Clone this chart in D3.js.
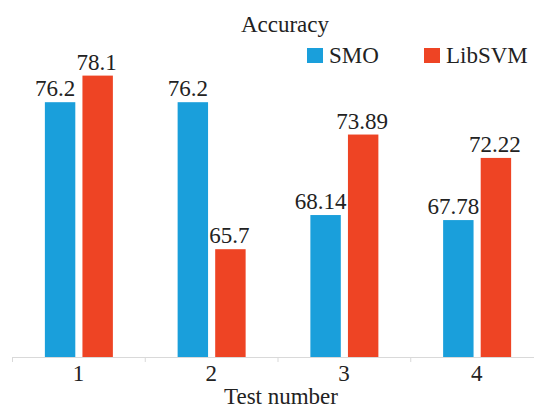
<!DOCTYPE html>
<html><head><meta charset="utf-8">
<script src="https://cdn.jsdelivr.net/npm/d3@7"></script>
<style>body{margin:0;background:#fff}svg{display:block}text{font-family:"Liberation Serif","Times New Roman",serif;fill:#222}</style>
</head><body><svg id="c" width="534" height="409"></svg>
<script>
const categories = ["1","2","3","4"];
const series = ["SMO","LibSVM"];
const smo = [76.2, 76.2, 68.14, 67.78];
const libsvm = [78.1, 65.7, 73.89, 72.22];
const colors = ["#1a9fdb","#ee4424"];

const svg = d3.select("#c");
const x = d3.scaleBand().domain(categories).range([12, 543]).padding(0);
const y = d3.scaleLinear().domain([58, 80]).range([357, 49]);
const inner = d3.scaleBand().domain(series).range([-33.5, 34.5]).paddingInner(0.19);
const labelShift = [-5, -1];

const data = categories.map((c,i)=>({c, vals:[smo[i], libsvm[i]]}));
const g = svg.append("g");
const groups = g.selectAll("g").data(data).join("g")
  .attr("transform", d=>`translate(${x(d.c)+x.bandwidth()/2},0)`);
groups.selectAll("rect").data(d=>d.vals.map((v,j)=>({v, s:series[j], j})))
  .join("rect")
  .attr("x", d=>inner(d.s)).attr("width", inner.bandwidth())
  .attr("y", d=>y(d.v)).attr("height", d=>y.range()[0]-y(d.v))
  .attr("fill", d=>colors[d.j]);
groups.selectAll("text.v").data(d=>d.vals.map((v,j)=>({v, s:series[j], j})))
  .join("text").attr("class","v")
  .attr("x", d=>inner(d.s)+inner.bandwidth()/2+labelShift[d.j]).attr("y", d=>y(d.v)-6)
  .attr("text-anchor","middle").style("font-size","23px").text(d=>d.v);

// axis
const ax = svg.append("g").attr("transform","translate(0,357)")
  .call(d3.axisBottom(x).tickSize(0).tickPadding(8));
ax.attr("font-family",null);
ax.select(".domain").attr("stroke","#d9d9d9").attr("d","M12,0.5H534");
ax.selectAll(".tick text").style("font-size","23px").attr("fill","#222");
const bounds = categories.map(c=>x(c));
svg.append("g").selectAll("line").data(bounds).join("line")
  .attr("x1",d=>d+0.5).attr("x2",d=>d+0.5).attr("y1",357).attr("y2",362)
  .attr("stroke","#d9d9d9");

svg.append("text").attr("x",281).attr("y",404).attr("text-anchor","middle")
  .style("font-size","23px").text("Test number");
svg.append("text").attr("x",285).attr("y",32).attr("text-anchor","middle")
  .style("font-size","23px").text("Accuracy");

const lg = svg.append("g");
const lx = [307, 424];
series.forEach((s,i)=>{
  lg.append("rect").attr("x",lx[i]).attr("y",48).attr("width",16).attr("height",15).attr("fill",colors[i]);
  lg.append("text").attr("x",lx[i]+22).attr("y",63).style("font-size","23px").text(s);
});
</script></body></html>
